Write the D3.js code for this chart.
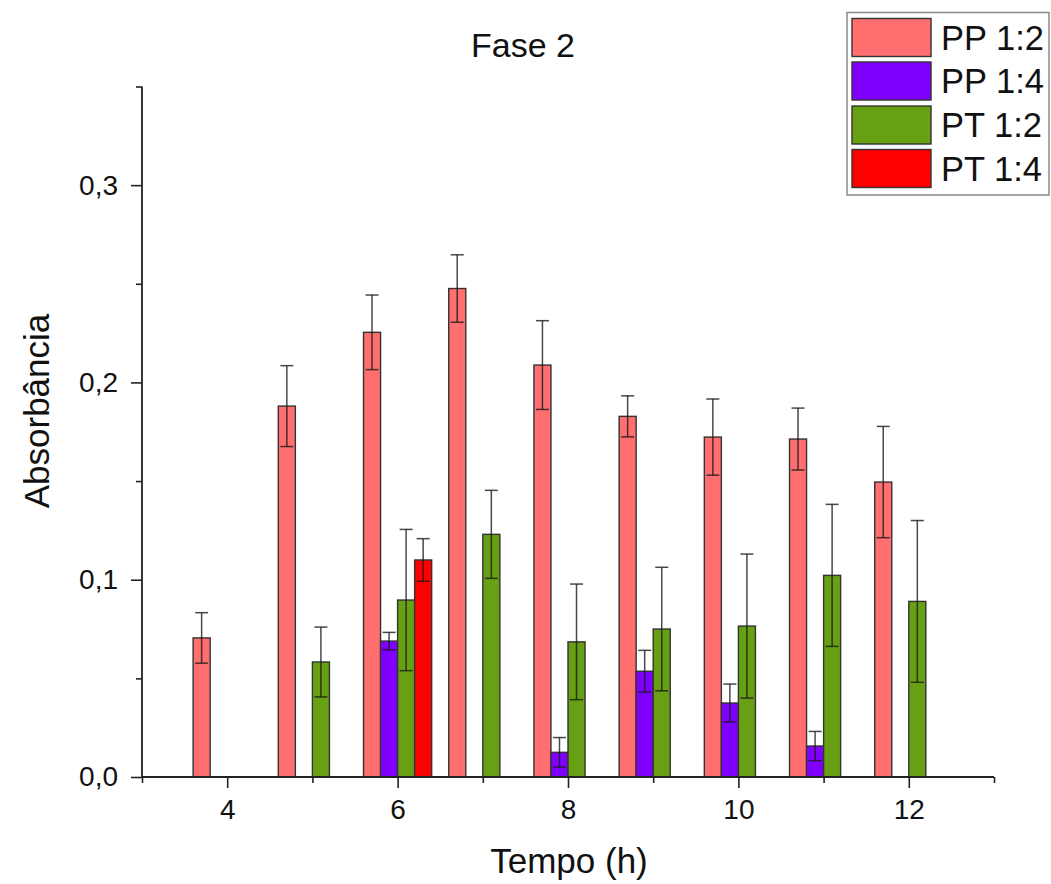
<!DOCTYPE html>
<html>
<head>
<meta charset="utf-8">
<script src="https://cdn.jsdelivr.net/npm/d3@7"></script>
<style>
  html, body { margin: 0; padding: 0; background: #ffffff; }
  svg { display: block; font-family: "Liberation Sans", Arial, sans-serif; }
</style>
</head>
<body>
<svg id="chart" width="1051" height="884"></svg>
<script>
// ---- data ----
const hours = [4, 5, 6, 7, 8, 9, 10, 11, 12];
const seriesNames = ["PP 1:2", "PP 1:4", "PT 1:2", "PT 1:4"];
const seriesColors = ["#ff6f6f", "#8000ff", "#67a013", "#ff0000"];

const pp12    = [0.0705, 0.188, 0.2254, 0.2476, 0.2088, 0.1828, 0.1723, 0.1713, 0.1495];
const pp12Err = [0.0128, 0.0205, 0.0189, 0.0171, 0.0225, 0.0104, 0.0193, 0.0157, 0.0282];
const pp14    = [null, null, 0.0689, null, 0.0125, 0.0536, 0.0375, 0.0157, null];
const pp14Err = [null, null, 0.0044, null, 0.0075, 0.0106, 0.0096, 0.0074, null];
const pt12    = [null, 0.0583, 0.0897, 0.1230, 0.0685, 0.0750, 0.0765, 0.1022, 0.0890];
const pt12Err = [null, 0.0177, 0.0358, 0.0223, 0.0293, 0.0313, 0.0365, 0.0360, 0.0410];
const pt14    = [null, null, 0.1100, null, null, null, null, null, null];
const pt14Err = [null, null, 0.0108, null, null, null, null, null, null];

const xMajorTicks = [4, 6, 8, 10, 12];
const xMinorTicks = [3, 5, 7, 9, 11, 13];
const yMajorTicks = [0, 0.1, 0.2, 0.3];
const yMinorTicks = [0.05, 0.15, 0.25, 0.35];

const titleText = "Fase 2";
const xTitle = "Tempo (h)";
const yTitle = "Absorbância";

// ---- build table ----
const seriesValues = [pp12, pp14, pt12, pt14];
const seriesErrors = [pp12Err, pp14Err, pt12Err, pt14Err];
const records = [];
seriesNames.forEach((name, si) => {
  hours.forEach((h, i) => {
    const v = seriesValues[si][i];
    if (v != null) records.push({ series: name, si, hour: h, value: v, err: seriesErrors[si][i] });
  });
});

// ---- scales ----
const svg = d3.select("#chart");
const x = d3.scaleLinear().domain([3, 13]).range([142, 994]);
const y = d3.scaleLinear().domain([0, 0.35]).range([777, 86.5]);
const groupHalf = x(3.4) - x(3); // group spans 0.8 h
const inner = d3.scaleBand().domain(seriesNames).range([-groupHalf, groupHalf]).padding(0);
const color = d3.scaleOrdinal().domain(seriesNames).range(seriesColors);

// ---- bars ----
svg.append("g").selectAll("rect")
  .data(records)
  .join("rect")
  .attr("x", d => x(d.hour) + inner(d.series))
  .attr("y", d => y(d.value))
  .attr("width", inner.bandwidth())
  .attr("height", d => y(0) - y(d.value))
  .attr("fill", d => color(d.series))
  .attr("stroke", "#333")
  .attr("stroke-width", 1.4);

// ---- error bars ----
const capHalf = 6.5;
const eg = svg.append("g").attr("stroke", "#1a1a1a").attr("stroke-opacity", 0.8).attr("stroke-width", 1.5).attr("fill", "none");
records.forEach(d => {
  const cx = x(d.hour) + inner(d.series) + inner.bandwidth() / 2;
  const top = y(d.value + d.err), bot = y(d.value - d.err);
  eg.append("line").attr("x1", cx).attr("x2", cx).attr("y1", top).attr("y2", bot);
  eg.append("line").attr("x1", cx - capHalf).attr("x2", cx + capHalf).attr("y1", top).attr("y2", top);
  eg.append("line").attr("x1", cx - capHalf).attr("x2", cx + capHalf).attr("y1", bot).attr("y2", bot);
});

// ---- axes ----
const axisColor = "#222";
const xAxisG = svg.append("g").attr("transform", `translate(0,${y(0)})`)
  .call(d3.axisBottom(x).tickValues(xMajorTicks).tickSize(11).tickSizeOuter(0).tickFormat(d3.format("d")));
xAxisG.select(".domain").remove();
xAxisG.selectAll(".tick line").attr("stroke", axisColor).attr("stroke-width", 1.6);
xAxisG.selectAll(".tick text").attr("font-size", 28).attr("fill", "#111").attr("dy", "0.71em").attr("y", 22)
  .attr("font-family", "'Liberation Sans', Arial, sans-serif");
const xMinorG = svg.append("g").attr("transform", `translate(0,${y(0)})`)
  .call(d3.axisBottom(x).tickValues(xMinorTicks).tickSize(6).tickSizeOuter(0).tickFormat(""));
xMinorG.select(".domain").remove();
xMinorG.selectAll(".tick line").attr("stroke", axisColor).attr("stroke-width", 1.6);

const yAxisG = svg.append("g").attr("transform", `translate(${x(3)},0)`)
  .call(d3.axisLeft(y).tickValues(yMajorTicks).tickSize(11).tickSizeOuter(0).tickFormat(d => d3.format(".1f")(d).replace(".", ",")));
yAxisG.select(".domain").remove();
yAxisG.selectAll(".tick line").attr("stroke", axisColor).attr("stroke-width", 1.6);
yAxisG.selectAll(".tick text").attr("font-size", 28).attr("fill", "#111").attr("x", -24)
  .attr("font-family", "'Liberation Sans', Arial, sans-serif");
const yMinorG = svg.append("g").attr("transform", `translate(${x(3)},0)`)
  .call(d3.axisLeft(y).tickValues(yMinorTicks).tickSize(6).tickSizeOuter(0).tickFormat(""));
yMinorG.select(".domain").remove();
yMinorG.selectAll(".tick line").attr("stroke", axisColor).attr("stroke-width", 1.6);

// axis lines
svg.append("line").attr("x1", x(3)).attr("x2", x(13)).attr("y1", y(0)).attr("y2", y(0))
  .attr("stroke", axisColor).attr("stroke-width", 1.8);
svg.append("line").attr("x1", x(3)).attr("x2", x(3)).attr("y1", y(0)).attr("y2", y(0.35))
  .attr("stroke", axisColor).attr("stroke-width", 1.8);

// ---- titles ----
svg.append("text").attr("x", 523).attr("y", 57).attr("text-anchor", "middle")
  .attr("font-size", 34).attr("fill", "#111").text(titleText);
svg.append("text").attr("x", 569).attr("y", 873).attr("text-anchor", "middle")
  .attr("font-size", 35).attr("fill", "#111").text(xTitle);
svg.append("text").attr("transform", "translate(49,411) rotate(-90)").attr("text-anchor", "middle")
  .attr("font-size", 35).attr("fill", "#111").text(yTitle);

// ---- legend ----
const lg = svg.append("g");
lg.append("rect").attr("x", 847).attr("y", 12.5).attr("width", 202).attr("height", 182.5)
  .attr("fill", "#fff").attr("stroke", "#8a8a8a").attr("stroke-width", 1.5);
const legendY = [18.5, 62, 106, 149.5];
seriesNames.forEach((name, i) => {
  lg.append("rect").attr("x", 852).attr("y", legendY[i]).attr("width", 79).attr("height", 38)
    .attr("fill", color(name)).attr("stroke", "#333").attr("stroke-width", 1.4);
  lg.append("text").attr("x", 941).attr("y", legendY[i] + 31).attr("font-size", 34.5)
    .attr("fill", "#111").text(name);
});
</script>
</body>
</html>
